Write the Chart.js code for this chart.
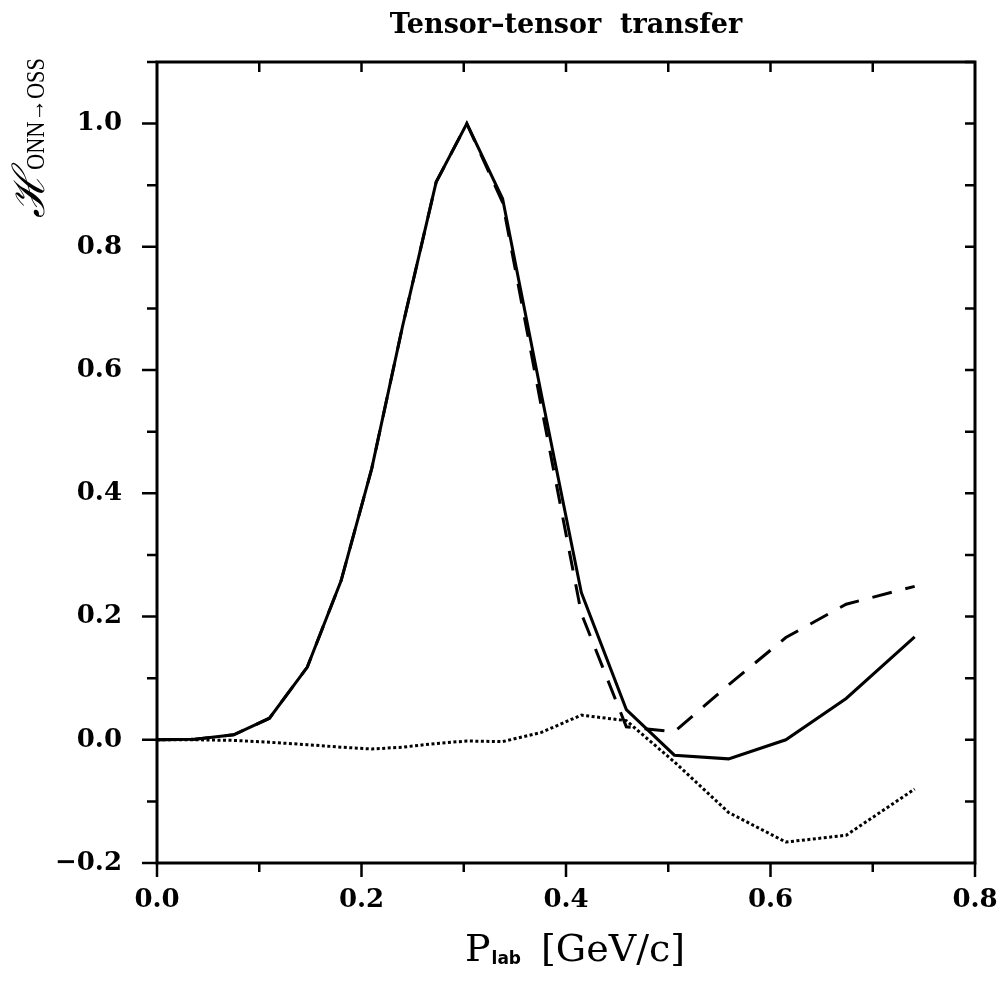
<!DOCTYPE html>
<html lang="en">
<head>
<meta charset="UTF-8">
<title>Tensor-tensor transfer</title>
<script src="https://cdn.jsdelivr.net/npm/chart.js@4"></script>
<style>
  body { margin: 0; background: #fff; }
  canvas { display: block; }
</style>
</head>
<body>
<canvas id="chart" width="1005" height="996"></canvas>
<script>
// values
const pLab = [0, 0.037, 0.075, 0.11, 0.147, 0.18, 0.21, 0.24, 0.273, 0.303, 0.338, 0.376, 0.415, 0.459, 0.506, 0.559, 0.615, 0.674, 0.741];
const solidVals = [0, 0.001, 0.008, 0.035, 0.118, 0.258, 0.44, 0.67, 0.905, 1.0, 0.878, 0.56, 0.239, 0.049, -0.025, -0.031, 0.0, 0.067, 0.167];
const dashedVals = [0, 0.001, 0.008, 0.035, 0.118, 0.258, 0.44, 0.67, 0.905, 1.0, 0.872, 0.54, 0.205, 0.021, 0.013, 0.089, 0.166, 0.22, 0.249];
const dottedVals = [0, 0, -0.001, -0.004, -0.008, -0.012, -0.015, -0.012, -0.006, -0.002, -0.003, 0.012, 0.04, 0.031, -0.036, -0.118, -0.166, -0.155, -0.08];

const xTickValues = [0, 0.1, 0.2, 0.3, 0.4, 0.5, 0.6, 0.7, 0.8];
const xTickLabels = ['0.0', '', '0.2', '', '0.4', '', '0.6', '', '0.8'];
const yTickValues = [-0.2, -0.1, 0, 0.1, 0.2, 0.3, 0.4, 0.5, 0.6, 0.7, 0.8, 0.9, 1.0, 1.1];
const yTickLabels = ['\u22120.2', '', '0.0', '', '0.2', '', '0.4', '', '0.6', '', '0.8', '', '1.0', ''];

const toPoints = vals => vals.map((v, i) => ({ x: pLab[i], y: v }));

const tickFont = { family: '"DejaVu Serif", serif', size: 26, weight: 'bold' };

// frame, tick marks (left/bottom outward, top/right inward) and the texts
const framePlugin = {
  id: 'frame',
  afterDatasetsDraw(chart) {
    const { ctx, chartArea: a, scales: { x, y } } = chart;
    ctx.save();
    ctx.strokeStyle = '#000';
    ctx.lineWidth = 3;
    ctx.strokeRect(a.left, a.top, a.right - a.left, a.bottom - a.top);
    ctx.lineWidth = 2.5;
    ctx.beginPath();
    xTickValues.forEach((v, i) => {
      const px = x.getPixelForValue(v);
      ctx.moveTo(px, a.bottom);
      ctx.lineTo(px, a.bottom + (xTickLabels[i] ? 14 : 9));
      if (i > 0 && i < xTickValues.length - 1) {
        ctx.moveTo(px, a.top);
        ctx.lineTo(px, a.top + 10);
      }
    });
    yTickValues.forEach((v, i) => {
      const py = y.getPixelForValue(v);
      ctx.moveTo(a.left, py);
      ctx.lineTo(a.left - (yTickLabels[i] ? 15 : 10), py);
      if (i > 0) {
        ctx.moveTo(a.right, py);
        ctx.lineTo(a.right - 10, py);
      }
    });
    ctx.stroke();
    ctx.restore();
  },
  afterDraw(chart) {
    const { ctx, chartArea: a } = chart;
    const cx = (a.left + a.right) / 2;
    ctx.save();
    ctx.fillStyle = '#000';

    // title
    ctx.font = 'bold 27px "DejaVu Serif", serif';
    ctx.textAlign = 'center';
    ctx.textBaseline = 'alphabetic';
    ctx.fillText('Tensor\u2013tensor  transfer', cx, 33);

    // x axis title: P_lab [GeV/c]
    ctx.textAlign = 'left';
    const bigFont = '38px "DejaVu Serif", serif';
    const subFont = 'bold 17px "DejaVu Sans", sans-serif';
    ctx.font = bigFont;
    const wP = ctx.measureText('P').width;
    const wRest = ctx.measureText('[GeV/c]').width;
    ctx.font = subFont;
    const wSub = ctx.measureText('lab').width;
    const gap = 21;
    let xs = 465;
    ctx.font = bigFont;
    ctx.fillText('P', xs, 961);
    ctx.font = subFont;
    ctx.fillText('lab', xs + wP + 1, 964);
    ctx.font = bigFont;
    ctx.fillText('[GeV/c]', xs + wP + wSub + gap, 961);

    // y axis title, rotated
    ctx.translate(44, 218);
    ctx.rotate(-Math.PI / 2);
    ctx.font = 'italic 44px "DejaVu Serif", serif';
    ctx.fillText('\u210B', 0, 0);
    const wH = ctx.measureText('\u210B').width;
    ctx.translate(wH + 1, 0);
    ctx.font = '25px "Liberation Serif", serif';
    const wS = ctx.measureText('ONN\u2192OSS').width;
    ctx.scale(Math.min(1, 112 / wS), 1);
    ctx.fillText('ONN\u2192OSS', 0, 0);
    ctx.restore();
  }
};

new Chart(document.getElementById('chart'), {
  type: 'line',
  data: {
    datasets: [
      {
        data: toPoints(dottedVals),
        borderColor: '#000',
        borderWidth: 3,
        borderDash: [3, 2.5],
        pointRadius: 0,
        tension: 0
      },
      {
        data: toPoints(dashedVals),
        borderColor: '#000',
        borderWidth: 3,
        borderDash: [20, 14],
        pointRadius: 0,
        tension: 0
      },
      {
        data: toPoints(solidVals),
        borderColor: '#000',
        borderWidth: 3,
        pointRadius: 0,
        tension: 0
      }
    ]
  },
  options: {
    responsive: false,
    animation: false,
    layout: { padding: { top: 62, right: 30, left: 0, bottom: 0 } },
    plugins: { legend: { display: false }, tooltip: { enabled: false } },
    scales: {
      x: {
        type: 'linear',
        min: 0,
        max: 0.8,
        afterFit: s => { s.height = 133; s.paddingLeft = 0; s.paddingRight = 0; },
        afterBuildTicks: s => { s.ticks = xTickValues.map(v => ({ value: v })); },
        grid: { display: false, drawTicks: false },
        border: { display: false },
        ticks: {
          autoSkip: false,
          maxRotation: 0,
          padding: 22,
          color: '#000',
          font: tickFont,
          callback: (v, i) => xTickLabels[i]
        }
      },
      y: {
        type: 'linear',
        min: -0.2,
        max: 1.1,
        afterFit: s => { s.width = 157; s.paddingTop = 0; s.paddingBottom = 0; },
        afterBuildTicks: s => { s.ticks = yTickValues.map(v => ({ value: v })); },
        grid: { display: false, drawTicks: false },
        border: { display: false },
        ticks: {
          autoSkip: false,
          padding: 35,
          color: '#000',
          font: tickFont,
          callback: (v, i) => yTickLabels[i]
        }
      }
    }
  },
  plugins: [framePlugin]
});
</script>
</body>
</html>
